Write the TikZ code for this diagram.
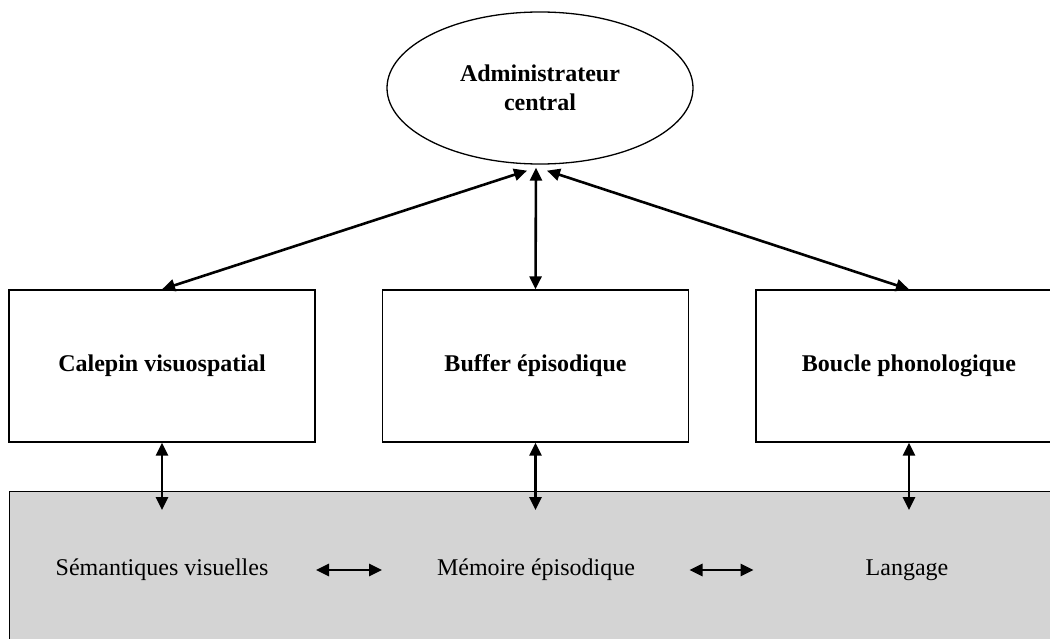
\documentclass[tikz,border=0pt]{standalone}
\usepackage{fontspec}
\setmainfont{Liberation Serif}
\usetikzlibrary{shapes.geometric, arrows.meta, calc}
\definecolor{memgray}{RGB}{212,212,212}

\begin{document}
\begin{tikzpicture}[x=1pt, y=-1pt,
  module/.style={draw, line width=1.3pt, minimum width=306pt, minimum height=152pt, font=\fontsize{24}{29}\selectfont\bfseries},
  store/.style={inner sep=0pt, font=\fontsize{24}{29}\selectfont},
  link/.style={line width=2.6pt, {Triangle[length=13pt,width=12pt]}-{Triangle[length=13pt,width=12pt]}}]
\useasboundingbox (0,0) rectangle (1050,639);
\node[draw, line width=1.3pt, fill=memgray, anchor=north west, minimum width=1080pt, minimum height=180pt, inner sep=0pt] (ltm) at (9,491) {};
\node[draw, ellipse, line width=1.3pt, minimum width=306pt, minimum height=152pt, align=center, font=\fontsize{24}{29}\selectfont\bfseries] (admin) at (540,88) {Administrateur\\central};
\node[module] (calepin) at (162,366) {Calepin visuospatial};
\node[module] (buffer) at (535.5,366) {Buffer épisodique};
\node[module] (boucle) at (909,366) {Boucle phonologique};
\node[store] (semvis) at (162,570) {Sémantiques visuelles};
\node[store] (memepi) at (536,570) {Mémoire épisodique};
\node[store] (langage) at (907,570) {Langage};
\draw[link] ($(admin.south)+(-13,6)$) -- (calepin.north);
\draw[link] ($(admin.south)+(-4,3)$) -- (buffer.north);
\draw[link] ($(admin.south)+(7,6)$) -- (boucle.north);
\draw[link] (calepin.south) -- ($(calepin.south |- ltm.north)+(0,19)$);
\draw[link] (buffer.south) -- ($(buffer.south |- ltm.north)+(0,19)$);
\draw[link] (boucle.south) -- ($(boucle.south |- ltm.north)+(0,19)$);
\draw[link] ($(semvis)!0.5!(memepi)+(-33,0)$) -- ($(semvis)!0.5!(memepi)+(33,0)$);
\draw[link] ($(memepi)!0.5!(langage)+(-32,0)$) -- ($(memepi)!0.5!(langage)+(32,0)$);
\end{tikzpicture}
\end{document}
